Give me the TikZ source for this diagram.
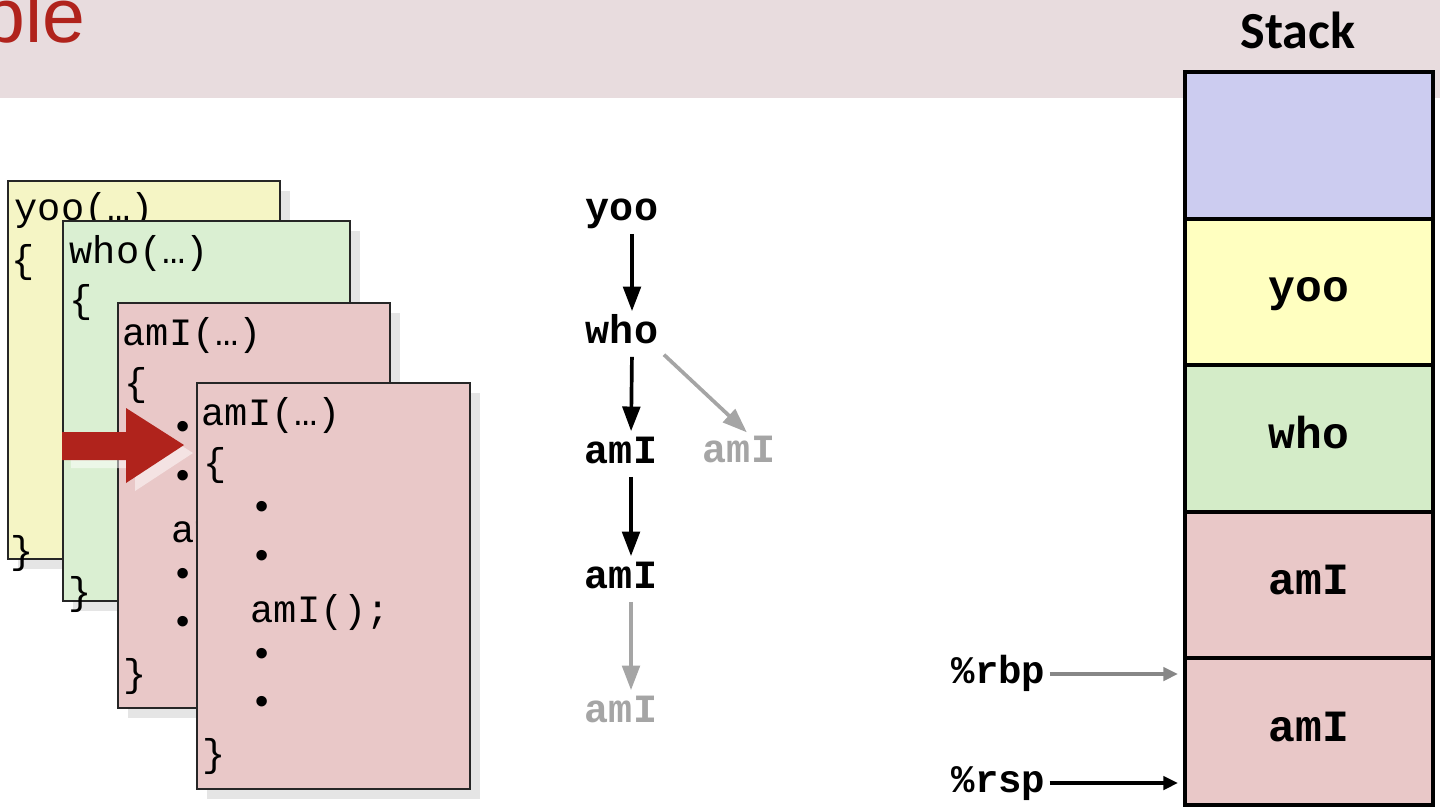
\documentclass[tikz,border=0pt]{standalone}
\usepackage{fontspec}
\setmainfont{Liberation Sans}
\newfontfamily\codefont{Liberation Mono}
\newfontfamily\calibrifont{Carlito}
\definecolor{cmured}{RGB}{176,35,28}
\definecolor{bandpink}{RGB}{232,220,222}
\definecolor{stackblue}{RGB}{204,204,240}
\definecolor{stackyellow}{RGB}{255,255,192}
\definecolor{stackgreen}{RGB}{212,236,200}
\definecolor{stackpink}{RGB}{233,200,200}
\definecolor{cardyellow}{RGB}{245,245,197}
\definecolor{cardgreen}{RGB}{218,239,210}
\definecolor{treegray}{RGB}{165,165,165}
\definecolor{reggray}{RGB}{135,135,135}
\usetikzlibrary{arrows.meta,positioning,shadows}

\begin{document}
\begin{tikzpicture}[x=0.01cm, y=-0.01cm,
    card/.style={rectangle, draw=black!85, line width=0.55pt, inner sep=0pt, anchor=north west,
      drop shadow={shadow xshift=0.1cm, shadow yshift=-0.1cm, fill=black, opacity=0.1}},
    code/.style={font=\codefont\fontsize{11}{13}\selectfont, inner sep=0pt, anchor=base west},
    sym/.style={font=\codefont\fontsize{11}{13}\selectfont, inner sep=0pt},
    call/.style={font=\codefont\bfseries\fontsize{11.4}{14}\selectfont, inner sep=0pt,
      text height=0.7em, text depth=0.16em},
    calldim/.style={call, text=treegray},
    cell/.style={rectangle, draw, line width=1.1pt, minimum width=2.48cm, minimum height=1.466cm,
      inner sep=0pt, font=\codefont\bfseries\fontsize{12.7}{15}\selectfont, text height=0.7em, text depth=0.16em},
    reg/.style={font=\codefont\bfseries\fontsize{11.1}{13}\selectfont, inner sep=0pt, anchor=east,
      text height=0.7em, text depth=0.16em},
    tree/.style={-{Triangle[length=7pt,width=5pt]}, line width=1.05pt, shorten <=2pt, shorten >=2pt},
    regarrow/.style={-{Triangle[length=4.2pt,width=3.8pt]}, line width=1pt, shorten <=1pt}
  ]
    \useasboundingbox (0,0) rectangle (1440,811);

    % header band
    \fill[bandpink] (0,0) rectangle (1440,98);
    \node[anchor=base east, inner sep=0pt, text=cmured, font=\fontsize{21.9}{26}\selectfont] (title) at (86,42) {Example};

    % code cards
    \node[card, fill=cardyellow, minimum width=2.72cm, minimum height=3.78cm] (card1) at (7,180) {};
    \node[code] (c1name) at (14,220) {yoo(…)};
    \node[sym] (c1open) at (23,262) {\{};
    \node[sym] (c1close) at (22,553) {\}};

    \node[card, fill=cardgreen, minimum width=2.87cm, minimum height=3.8cm] (card2) at (62,220) {};
    \node[code] (c2name) at (69,263) {who(…)};
    \node[sym] (c2open) at (81,302) {\{};
    \node[sym] (c2close) at (80,594) {\}};

    \node[card, fill=stackpink, minimum width=2.72cm, minimum height=4.05cm] (card3) at (117,302) {};
    \node[code] (c3name) at (122,345) {amI(…)};
    \node[sym] (c3open) at (136,385) {\{};
    \node[sym] (c3dot1) at (183,430) {•};
    \node[sym] (c3dot2) at (183,479) {•};
    \node[code] (c3call) at (171,542) {amI();};
    \node[sym] (c3dot3) at (183,577) {•};
    \node[sym] (c3dot4) at (183,625) {•};
    \node[sym] (c3close) at (135,676) {\}};

    % red block arrow
    \fill[white, opacity=0.5] (71,440) -- (135,440) -- (135,416) -- (193,453) -- (135,491) -- (135,468) -- (71,468) -- cycle;
    \fill[cmured] (62,432) -- (126,432) -- (126,408) -- (184,445) -- (126,483) -- (126,460) -- (62,460) -- cycle;

    \node[card, fill=stackpink, minimum width=2.73cm, minimum height=4.06cm] (card4) at (196,382) {};
    \node[code] (c4name) at (201,425) {amI(…)};
    \node[sym] (c4open) at (215,465) {\{};
    \node[sym] (c4dot1) at (262,510) {•};
    \node[sym] (c4dot2) at (262,559) {•};
    \node[code] (c4call) at (250,622) {amI();};
    \node[sym] (c4dot3) at (262,657) {•};
    \node[sym] (c4dot4) at (262,705) {•};
    \node[sym] (c4close) at (214,756) {\}};

    % call tree
    \node[call] (yoo) at (622,211) {yoo};
    \node[call] (who) at (622,334) {who};
    \node[call] (amIa) at (621,454) {amI};
    \node[calldim] (amIside) at (739,453) {amI};
    \node[call] (amIb) at (621,579) {amI};
    \node[calldim] (amIc) at (621,713) {amI};
    \draw[tree] ([xshift=0.1cm]yoo.south) -- ([xshift=0.1cm]who.north);
    \draw[tree] ([xshift=0.1cm]who.south) -- ([xshift=0.1cm]amIa.north);
    \draw[tree] ([xshift=0.1cm]amIa.south) -- ([xshift=0.1cm]amIb.north);
    \draw[tree, treegray] ([xshift=0.1cm]amIb.south) -- ([xshift=0.1cm]amIc.north);
    \draw[tree, treegray] (who.south east) -- ([xshift=0.13cm]amIside.north);

    % stack
    \node[font=\calibrifont\bfseries\fontsize{14.8}{18}\selectfont, anchor=base, inner sep=0pt] (stacktitle) at (1298,48) {Stack};
    \node[cell, fill=stackblue] (sblue) at (1309,145.3) {};
    \node[cell, fill=stackyellow] (syoo) at (1309,291.9) {yoo};
    \node[cell, fill=stackgreen] (swho) at (1309,438.5) {who};
    \node[cell, fill=stackpink] (samIa) at (1309,585.1) {amI};
    \node[cell, fill=stackpink] (samIb) at (1309,731.7) {amI};

    % registers
    \node[reg] (rbp) at (1046,674) {\%rbp};
    \node[reg] (rsp) at (1046,783) {\%rsp};
    \coordinate (rbptip) at (1178,674);
    \coordinate (rsptip) at (1178,783);
    \draw[regarrow, reggray] (rbp.east) -- (rbptip);
    \draw[regarrow] (rsp.east) -- (rsptip);

  \end{tikzpicture}
\end{document}
